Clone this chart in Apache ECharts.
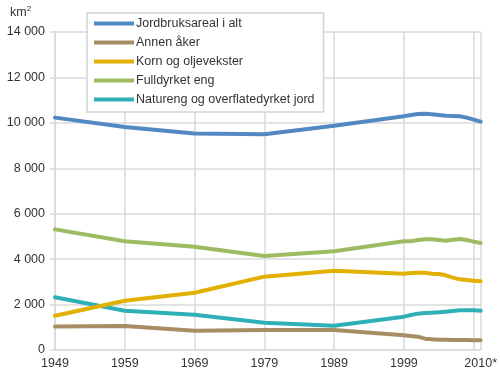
<!DOCTYPE html>
<html>
<head>
<meta charset="utf-8">
<script src="https://cdn.jsdelivr.net/npm/echarts@6/dist/echarts.min.js"></script>
<style>
  html, body { margin: 0; padding: 0; background: #fff; }
  #chart { width: 500px; height: 372px; }
</style>
</head>
<body>
<div id="chart"></div>
<script>
// Survey years: every tenth year up to 1999, then yearly
const years = [1949, 1959, 1969, 1979, 1989, 1999, 2000, 2001, 2002, 2003, 2004, 2005, 2006, 2007, 2008, 2009, 2010];

// Area in km²
const jordbruksareal = [10230, 9820, 9530, 9500, 9870, 10290, 10346, 10390, 10405, 10376, 10346, 10317, 10302, 10288, 10229, 10141, 10053];
const annenAker      = [1030, 1060, 850, 880, 880, 646, 616, 587, 499, 470, 455, 450, 445, 440, 440, 425, 425];
const kornOljevekster = [1510, 2170, 2520, 3230, 3490, 3361, 3390, 3405, 3405, 3361, 3346, 3287, 3185, 3111, 3082, 3053, 3023];
const fulldyrketEng  = [5310, 4785, 4550, 4140, 4345, 4790, 4784, 4843, 4872, 4872, 4843, 4813, 4857, 4887, 4843, 4770, 4711];
const naturengJord   = [2320, 1730, 1555, 1204, 1065, 1467, 1541, 1600, 1629, 1644, 1658, 1688, 1717, 1747, 1747, 1747, 1731];

const seriesNames = ['Jordbruksareal i alt', 'Annen åker', 'Korn og oljevekster', 'Fulldyrket eng', 'Natureng og overflatedyrket jord'];
const seriesValues = [jordbruksareal, annenAker, kornOljevekster, fulldyrketEng, naturengJord];
const seriesColors = ['#5389c2', '#a88d62', '#e2b000', '#9dbb61', '#2fafb8'];

// X positions are years after the first survey so decade ticks line up
const baseYear = 1949;
const lastYear = 2010;
const lastLabel = '2010*';

function thousands(v) {
  return String(v).replace(/\B(?=(\d{3})+(?!\d))/g, ' ');
}

const chart = echarts.init(document.getElementById('chart'), null, { renderer: 'canvas' });

const gridColor = '#dadada';
const textColor = '#333333';
const font = 'Liberation Sans, Arial, sans-serif';
const fontSize = 12.5;

chart.setOption({
  animation: false,
  backgroundColor: '#ffffff',
  textStyle: { fontFamily: font },
  grid: { left: 55, right: 18, top: 32, bottom: 22, containLabel: false },
  graphic: [{
    type: 'text',
    left: 10,
    top: 5,
    style: {
      text: '{b|km}{s|2}',
      rich: {
        b: { fontSize: fontSize, fontFamily: font, fill: textColor, verticalAlign: 'bottom' },
        s: { fontSize: 8, fontFamily: font, fill: textColor, verticalAlign: 'top', padding: [0, 0, 6, 0] }
      }
    }
  }],
  legend: {
    orient: 'vertical',
    left: 87,
    top: 13,
    padding: [3, 9, 5, 7],
    itemWidth: 40,
    itemHeight: 4,
    itemGap: 4,
    icon: 'rect',
    backgroundColor: '#ffffff',
    borderColor: '#d4d4d4',
    borderWidth: 1.5,
    borderRadius: 0,
    textStyle: { fontSize: fontSize, color: textColor, fontFamily: font, padding: [0, 0, 0, -3], lineHeight: 15 },
    data: seriesNames.map(n => ({ name: n }))
  },
  xAxis: {
    type: 'value',
    min: 0,
    max: lastYear - baseYear,
    interval: 10,
    axisLine: { show: true, lineStyle: { color: gridColor, width: 1.5 } },
    axisTick: { show: false },
    splitLine: { show: true, lineStyle: { color: gridColor, width: 1.5 } },
    axisLabel: {
      color: textColor,
      fontSize: fontSize,
      fontFamily: font,
      margin: 7,
      showMaxLabel: true,
      hideOverlap: false,
      formatter: function (v) {
        const y = v + baseYear;
        if (y === lastYear) return lastLabel;
        if (y > lastYear - 10) return '';
        return String(y);
      }
    }
  },
  yAxis: {
    type: 'value',
    min: 0,
    max: 14000,
    interval: 2000,
    axisLine: { show: true, lineStyle: { color: gridColor, width: 1.5 } },
    axisTick: { show: true, length: 5, lineStyle: { color: gridColor, width: 1.5 } },
    splitLine: { show: true, lineStyle: { color: gridColor, width: 1.5 } },
    axisLabel: {
      color: textColor,
      fontSize: fontSize,
      fontFamily: font,
      margin: 10,
      formatter: v => thousands(v)
    }
  },
  series: seriesNames.map((name, i) => ({
    name: name,
    type: 'line',
    symbol: 'none',
    smooth: false,
    z: 3 + (seriesNames.length - i),
    lineStyle: { color: seriesColors[i], width: 4, cap: 'round', join: 'round' },
    itemStyle: { color: seriesColors[i] },
    data: years.map((y, k) => [y - baseYear, seriesValues[i][k]])
  }))
});
</script>
</body>
</html>
